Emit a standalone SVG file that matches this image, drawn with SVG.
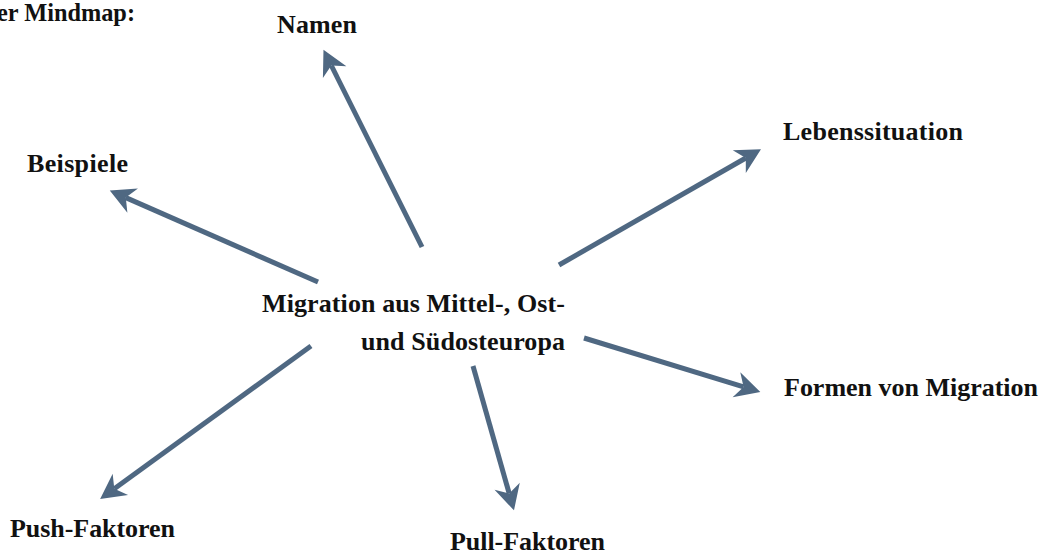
<svg xmlns="http://www.w3.org/2000/svg" width="1042" height="556" viewBox="0 0 1042 556">
  <style>
    .lbl { font-family: "Liberation Serif", "Times New Roman", serif; font-weight: bold; font-size: 26px; fill: #111111; }
    .conn { stroke: #4f6882; stroke-width: 5; fill: none; stroke-linecap: butt; }
  </style>
  <defs>
    <marker id="arr" markerUnits="userSpaceOnUse" markerWidth="30" markerHeight="30" viewBox="-8 -12 24 24" refX="0" refY="0" orient="auto">
      <path d="M14,0 L-6,-10.5 L0,0 L-6,10.5 Z" fill="#4f6882"/>
    </marker>
  </defs>
  <rect width="1042" height="556" fill="#ffffff"/>

  <g id="title">
    <text class="lbl" x="-3" y="21" textLength="138" lengthAdjust="spacingAndGlyphs">er Mindmap:</text>
  </g>

  <g id="connectors">
    <line class="conn" x1="422" y1="247" x2="331.3" y2="65.5" marker-end="url(#arr)"/>
    <line class="conn" x1="318" y1="282" x2="125.8" y2="197.6" marker-end="url(#arr)"/>
    <line class="conn" x1="559" y1="265" x2="745.8" y2="158.0" marker-end="url(#arr)"/>
    <line class="conn" x1="584" y1="338" x2="743.6" y2="386.9" marker-end="url(#arr)"/>
    <line class="conn" x1="473" y1="366" x2="509.2" y2="493.5" marker-end="url(#arr)"/>
    <line class="conn" x1="311" y1="346" x2="114.3" y2="488.8" marker-end="url(#arr)"/>
  </g>

  <g id="center">
    <text class="lbl" x="262" y="312" textLength="303" lengthAdjust="spacing">Migration aus Mittel-, Ost-</text>
    <text class="lbl" x="361" y="350" textLength="204" lengthAdjust="spacing">und Südosteuropa</text>
  </g>
  <g id="namen">
    <text class="lbl" x="277" y="33" textLength="80" lengthAdjust="spacing">Namen</text>
  </g>
  <g id="beispiele">
    <text class="lbl" x="27" y="172" textLength="101" lengthAdjust="spacing">Beispiele</text>
  </g>
  <g id="lebenssituation">
    <text class="lbl" x="783" y="140" textLength="180" lengthAdjust="spacing">Lebenssituation</text>
  </g>
  <g id="formen">
    <text class="lbl" x="784" y="396" textLength="254" lengthAdjust="spacing">Formen von Migration</text>
  </g>
  <g id="push">
    <text class="lbl" x="10" y="537" textLength="165" lengthAdjust="spacing">Push-Faktoren</text>
  </g>
  <g id="pull">
    <text class="lbl" x="450" y="550" textLength="155" lengthAdjust="spacing">Pull-Faktoren</text>
  </g>
</svg>
